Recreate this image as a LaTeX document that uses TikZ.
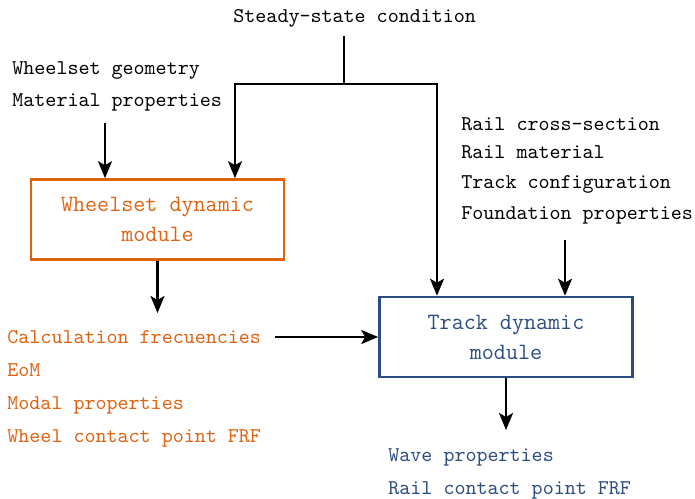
\documentclass[tikz,border=0pt]{standalone}
\usetikzlibrary{arrows.meta}
\definecolor{wcol}{RGB}{222,98,16}
\definecolor{tcol}{RGB}{44,77,127}
\begin{document}
\begin{tikzpicture}[x=0.5pt,y=-0.5pt,
  txt/.style={anchor=base west,inner sep=0pt,font=\fontsize{10.5}{12.6}\selectfont\ttfamily},
  boxst/.style={draw,line width=1.3pt,minimum width=126.5pt,minimum height=40pt,inner sep=0pt,align=center,font=\fontsize{11.7}{15}\selectfont\ttfamily},
  conn/.style={line width=1.1pt},
  arr/.style={line width=1.1pt,-{Stealth[length=8.5pt,width=7pt,inset=2pt]}},
  darr/.style={line width=1.1pt,{Stealth[length=8.5pt,width=7pt,inset=2pt]}-{Stealth[length=8.5pt,width=7pt,inset=2pt]}}]
\useasboundingbox (0,0) rectangle (695,498);
% texts
\node[txt] (ss) at (233,22) {Steady-state condition};
\node[txt] (wg) at (12,74) {Wheelset geometry};
\node[txt] (mp) at (12,106) {Material properties};
\node[txt] (rc) at (461,130) {Rail cross-section};
\node[txt] (rm) at (461,158) {Rail material};
\node[txt] (tc) at (461,188) {Track configuration};
\node[txt] (fp) at (461,219) {Foundation properties};
\node[txt,text=wcol] (cf) at (7,343) {Calculation frecuencies};
\node[txt,text=wcol] (eom) at (7,376) {EoM};
\node[txt,text=wcol] (mo) at (7,409) {Modal properties};
\node[txt,text=wcol] (wc) at (7,442) {Wheel contact point FRF};
\node[txt,text=tcol] (wp) at (388,461) {Wave properties};
\node[txt,text=tcol] (rcp) at (388,494) {Rail contact point FRF};
% boxes
\node[boxst,draw=wcol,text=wcol] (wbox) at (157.5,219.5) {Wheelset dynamic\\module};
\node[boxst,draw=tcol,text=tcol] (tbox) at (506,337) {Track dynamic\\module};
% coordinates
\coordinate (s0) at (344,36);
\coordinate (j) at (344,84);
\coordinate (wl) at (235,84);
\coordinate (tr) at (437,84);
\coordinate (a0) at (105,123);
\coordinate (o0) at (157.5,313);
\coordinate (c0) at (275,337);
\coordinate (t0) at (506,430);
\coordinate (r0) at (565,240);
% connectors
\draw[conn] (s0) -- (j);
\draw[darr] (wl |- wbox.north) -- (wl) -- (tr) -- (tr |- tbox.north);
\draw[arr] (a0) -- (a0 |- wbox.north);
\draw[arr] (wbox.south) -- (o0);
\draw[arr] (c0) -- (tbox.west);
\draw[arr] (tbox.south) -- (t0);
\draw[arr] (r0) -- (r0 |- tbox.north);
\end{tikzpicture}
\end{document}
